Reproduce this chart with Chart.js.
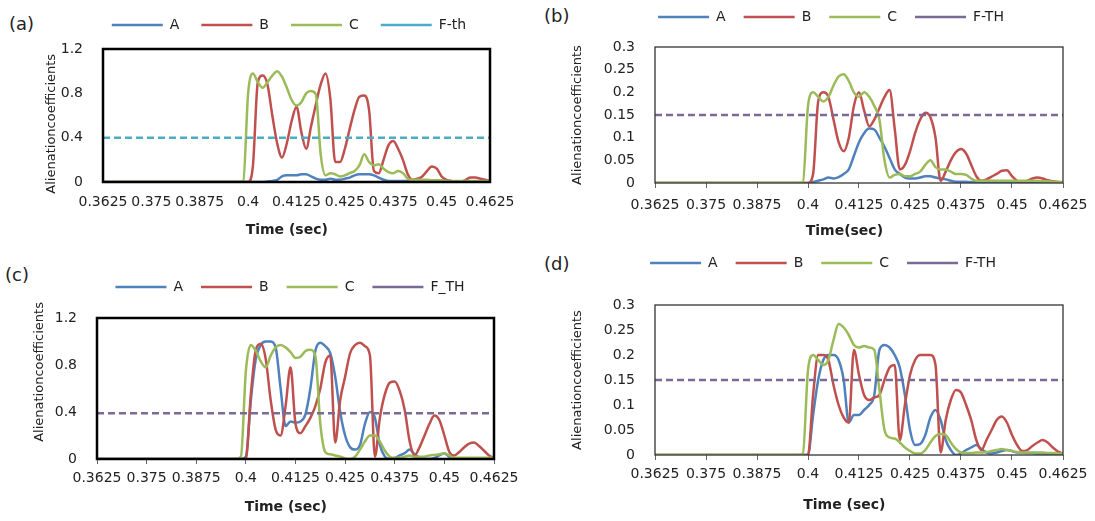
<!DOCTYPE html>
<html>
<head>
<meta charset="utf-8">
<script src="https://cdn.jsdelivr.net/npm/chart.js@4.4.0/dist/chart.umd.min.js"></script>
<style>
  html, body { margin: 0; padding: 0; background: #fff; width: 1095px; height: 521px; overflow: hidden; position: relative; }
  canvas { position: absolute; }
  .tag { position: absolute; font: 18px 'DejaVu Sans', sans-serif; color: #222; line-height: 1; }
</style>
</head>
<body>
<div class="tag" style="left:9px;top:15px">(a)</div>
<div class="tag" style="left:544px;top:7px">(b)</div>
<div class="tag" style="left:5px;top:266px">(c)</div>
<div class="tag" style="left:544px;top:255px">(d)</div>

<canvas id="ca" width="578" height="243" style="left:0px;top:-4px"></canvas>
<canvas id="cb" width="562" height="248" style="left:550px;top:-8px"></canvas>
<canvas id="cc" width="580" height="254" style="left:0px;top:262px"></canvas>
<canvas id="cd" width="546" height="276" style="left:550px;top:238px"></canvas>

<script>
// time axis (sec): one start point, then samples every 0.00125 s from 0.3975
const times = [0.3625,
  0.3975, 0.39875, 0.4, 0.40125, 0.4025, 0.40375, 0.405, 0.40625, 0.4075, 0.40875,
  0.41, 0.41125, 0.4125, 0.41375, 0.415, 0.41625, 0.4175, 0.41875, 0.42, 0.42125,
  0.4225, 0.42375, 0.425, 0.42625, 0.4275, 0.42875, 0.43, 0.43125, 0.4325, 0.43375,
  0.435, 0.43625, 0.4375, 0.43875, 0.44, 0.44125, 0.4425, 0.44375, 0.445, 0.44625,
  0.4475, 0.44875, 0.45, 0.45125, 0.4525, 0.45375, 0.455, 0.45625, 0.4575, 0.45875,
  0.46, 0.46125, 0.4625];

const xTicks = [0.3625, 0.375, 0.3875, 0.4, 0.4125, 0.425, 0.4375, 0.45, 0.4625];
const yTicksLarge = [0, 0.4, 0.8, 1.2];
const yTicksSmall = [0, 0.05, 0.1, 0.15, 0.2, 0.25, 0.3];
const seriesNames = ['A', 'B', 'C'];
const fTh = [0.4, 0.15, 0.39, 0.15];
const thLabels = ['F-th', 'F-TH', 'F_TH', 'F-TH'];
const xTitles = ['Time (sec)', 'Time(sec)', 'Time (sec)', 'Time (sec)'];
const yTitle = 'Alienationcoefficients';

// (a)
const a_A = [0,
  0, 0, 0, 0, 0, 0,
  0.005, 0.01, 0.02, 0.05, 0.06, 0.06, 0.06, 0.07, 0.07, 0.05,
  0.03, 0.02, 0.02, 0.03, 0.02, 0.02, 0.03, 0.04, 0.06, 0.07,
  0.07, 0.07, 0.06, 0.04, 0.02, 0.01, 0.01, 0.01, 0.01, 0.01,
  0.01, 0.01, 0.01, 0.01, 0.01, 0.01, 0.01, 0.01, 0.005, 0.005,
  0.005, 0.005, 0.005, 0.005, 0.005, 0.005, 0.005];
const a_B = [0,
  0, 0, 0, 0.15, 0.9, 0.96,
  0.88, 0.6, 0.35, 0.22, 0.35, 0.55, 0.68, 0.45, 0.3, 0.5,
  0.7, 0.88, 0.98, 0.75, 0.18, 0.18, 0.3, 0.48, 0.65, 0.77,
  0.78, 0.65, 0.1, 0.08, 0.2, 0.33, 0.37, 0.3, 0.2, 0.07,
  0.02, 0.03, 0.05, 0.1, 0.14, 0.12, 0.05, 0.02, 0.01, 0,
  0, 0.02, 0.04, 0.04, 0.03, 0.02, 0.01];
const a_C = [0,
  0, 0.01, 0.8, 0.98, 0.9, 0.85,
  0.9, 0.96, 1.0, 0.95, 0.85, 0.74, 0.69, 0.72, 0.8, 0.82,
  0.79, 0.25, 0.06, 0.08, 0.07, 0.05, 0.06, 0.08, 0.1, 0.15,
  0.25, 0.18, 0.15, 0.16, 0.12, 0.09, 0.08, 0.1, 0.08, 0.03,
  0.02, 0.02, 0.02, 0.02, 0.015, 0.015, 0.015, 0.01, 0.01, 0.01,
  0.01, 0.01, 0.01, 0.01, 0.01, 0.01, 0.01];

// (b)
const b_A = [0,
  0, 0, 0, 0.002, 0.005, 0.008,
  0.012, 0.01, 0.013, 0.02, 0.03, 0.06, 0.09, 0.11, 0.12, 0.118,
  0.1, 0.08, 0.055, 0.03, 0.02, 0.012, 0.01, 0.01, 0.012, 0.015,
  0.015, 0.012, 0.01, 0.008, 0.005, 0.003, 0.003, 0.003, 0.002, 0.002,
  0.002, 0.002, 0.002, 0.002, 0.002, 0.002, 0.002, 0.002, 0.002, 0.002,
  0.002, 0.002, 0.001, 0.001, 0.001, 0.001, 0];
const b_B = [0,
  0, 0, 0, 0.02, 0.18, 0.2,
  0.19, 0.14, 0.09, 0.07, 0.1, 0.17, 0.2, 0.16, 0.125, 0.14,
  0.165, 0.19, 0.205, 0.12, 0.03, 0.04, 0.07, 0.11, 0.14, 0.155,
  0.145, 0.1, 0.005, 0.025, 0.05, 0.068, 0.075, 0.065, 0.04, 0.015,
  0.005, 0.008, 0.014, 0.02, 0.027, 0.028, 0.015, 0.005, 0.002, 0.005,
  0.01, 0.012, 0.01, 0.006, 0.004, 0.002, 0];
const b_C = [0,
  0, 0.002, 0.17, 0.2, 0.19, 0.18,
  0.19, 0.215, 0.235, 0.24, 0.225, 0.2, 0.19, 0.2, 0.19, 0.17,
  0.14, 0.05, 0.012, 0.018, 0.02, 0.015, 0.015, 0.02, 0.025, 0.04,
  0.05, 0.035, 0.03, 0.03, 0.025, 0.02, 0.02, 0.018, 0.01, 0.005,
  0.005, 0.005, 0.005, 0.005, 0.005, 0.005, 0.005, 0.005, 0.005, 0.005,
  0.005, 0.005, 0.004, 0.004, 0.003, 0.003, 0.002];

// (c)
const c_A = [0,
  0, 0, 0.02, 0.5, 0.85, 0.97,
  1.0, 1.0, 0.95, 0.6, 0.28, 0.32, 0.31, 0.32, 0.38, 0.6,
  0.92, 0.99, 0.96, 0.9, 0.7, 0.4, 0.2, 0.1, 0.08, 0.12,
  0.3, 0.4, 0.35, 0.12, 0.02, 0, 0.01, 0.03, 0.05, 0.08,
  0.04, 0.01, 0, 0, 0.01, 0.03, 0.05, 0.02, 0.005, 0.005,
  0.005, 0.003, 0.003, 0.002, 0.002, 0.001, 0];
const c_B = [0,
  0, 0, 0, 0.55, 0.93, 0.98,
  0.85, 0.5, 0.25, 0.2, 0.45, 0.78, 0.3, 0.22, 0.28, 0.35,
  0.45, 0.6, 0.82, 0.88, 0.14, 0.5, 0.7, 0.9, 0.97, 0.99,
  0.96, 0.88, 0.02, 0.35, 0.55, 0.65, 0.66, 0.58, 0.42, 0.15,
  0.03, 0.1, 0.2, 0.3, 0.37, 0.33, 0.2, 0.06, 0.03, 0.06,
  0.1, 0.13, 0.14, 0.11, 0.07, 0.03, 0.01];
const c_C = [0,
  0, 0.02, 0.75, 0.97, 0.92, 0.83,
  0.78, 0.88, 0.95, 0.97, 0.95, 0.91, 0.86, 0.87, 0.92, 0.93,
  0.88, 0.3, 0.06, 0.04, 0.03, 0.02, 0.005, 0, 0.02, 0.08,
  0.15, 0.2, 0.2, 0.15, 0.07, 0.02, 0.01, 0.01, 0.02, 0.03,
  0.02, 0.02, 0.02, 0.03, 0.035, 0.04, 0.05, 0.03, 0.01, 0.01,
  0.01, 0.01, 0.01, 0.01, 0.01, 0.01, 0.01];

// (d)
const d_A = [0,
  0, 0, 0, 0.08, 0.15, 0.19,
  0.2, 0.2, 0.19, 0.15, 0.065, 0.08, 0.08, 0.09, 0.1, 0.12,
  0.21, 0.22, 0.215, 0.2, 0.175, 0.12, 0.05, 0.02, 0.022, 0.04,
  0.075, 0.09, 0.07, 0.03, 0.01, 0, 0.003, 0.01, 0.015, 0.02,
  0.012, 0.005, 0.003, 0.005, 0.008, 0.01, 0.008, 0.005, 0.005, 0.004,
  0.004, 0.003, 0.003, 0.002, 0.002, 0.001, 0];
const d_B = [0,
  0, 0, 0, 0.12, 0.2, 0.2,
  0.19, 0.14, 0.1, 0.075, 0.065, 0.21, 0.16, 0.12, 0.11, 0.115,
  0.12, 0.15, 0.175, 0.18, 0.03, 0.1, 0.16, 0.19, 0.2, 0.2,
  0.2, 0.18, 0.005, 0.07, 0.11, 0.13, 0.125, 0.1, 0.07, 0.03,
  0.01, 0.03, 0.05, 0.07, 0.077, 0.065, 0.04, 0.02, 0.008, 0.01,
  0.018, 0.025, 0.03, 0.025, 0.015, 0.007, 0.003];
const d_C = [0,
  0, 0.003, 0.17, 0.2, 0.19, 0.18,
  0.19, 0.23, 0.262, 0.255, 0.24, 0.22, 0.215, 0.218, 0.215, 0.21,
  0.13, 0.05, 0.035, 0.033, 0.025, 0.015, 0.008, 0.003, 0.003, 0.01,
  0.025, 0.038, 0.042, 0.04, 0.025, 0.012, 0.005, 0.004, 0.004, 0.005,
  0.005, 0.006, 0.008, 0.01, 0.012, 0.01, 0.008, 0.006, 0.005, 0.005,
  0.005, 0.005, 0.005, 0.004, 0.004, 0.003, 0.003];

const lineColors = ['#4F81BD', '#C0504D', '#9BBB59'];
const FONT = "'DejaVu Sans', sans-serif";
const FSP = '\u2007'; // figure space, used to nudge axis titles off centre

// pushes the plot down below the legend
function legendGap(extra) {
  return {
    id: 'legendGap',
    beforeInit(chart) {
      const fit = chart.legend.fit;
      chart.legend.fit = function () {
        fit.call(this);
        this.height += extra;
      };
    }
  };
}

// box round the plot area
const frame = {
  id: 'frame',
  afterDatasetsDraw(chart, args, opts) {
    const {ctx, chartArea: a} = chart;
    ctx.save();
    ctx.strokeStyle = opts.color;
    ctx.lineWidth = opts.width;
    ctx.strokeRect(a.left, a.top, a.right - a.left, a.bottom - a.top);
    ctx.restore();
  }
};

function pts(vals) {
  return times.map((t, k) => ({x: t, y: vals[k]}));
}

function makeChart(p) {
  const datasets = p.series.map((vals, k) => ({
    label: seriesNames[k],
    data: pts(vals),
    borderColor: lineColors[k],
    backgroundColor: lineColors[k],
    borderWidth: 2.5,
    pointRadius: 0,
    pointHoverRadius: 0,
    pointStyle: 'line',
    cubicInterpolationMode: 'monotone',
    order: 4 - k
  }));
  datasets.push({
    label: thLabels[p.n],
    data: [{x: xTicks[0], y: fTh[p.n]}, {x: xTicks[xTicks.length - 1], y: fTh[p.n]}],
    borderColor: p.thColor,
    backgroundColor: p.thColor,
    borderWidth: 2.5,
    borderDash: [7, 4],
    pointRadius: 0,
    pointHoverRadius: 0,
    pointStyle: 'line',
    order: 1
  });

  return new Chart(document.getElementById(p.id), {
    type: 'line',
    data: {datasets: datasets},
    options: {
      responsive: false,
      animation: false,
      events: [],
      layout: {padding: 0},
      plugins: {
        legend: {
          position: 'top',
          labels: {
            usePointStyle: true,
            pointStyleWidth: 51,
            padding: p.legendPad,
            color: '#222',
            font: {family: FONT, size: 14},
            sort: (a, b) => a.datasetIndex - b.datasetIndex
          }
        },
        tooltip: {enabled: false},
        frame: {color: p.frameColor, width: p.frameWidth}
      },
      scales: {
        x: {
          type: 'linear',
          min: xTicks[0],
          max: xTicks[xTicks.length - 1],
          afterBuildTicks: s => { s.ticks = xTicks.map(v => ({value: v})); },
          afterFit: s => { s.height = p.xH; },
          grid: {display: true, drawOnChartArea: false, drawTicks: p.tickLen > 0, tickLength: p.tickLen, color: '#666'},
          border: {display: false},
          ticks: {
            autoSkip: false, maxRotation: 0, minRotation: 0,
            padding: p.tickPad,
            color: '#222',
            font: {family: FONT, size: 14},
            callback: v => String(+v.toFixed(5))
          },
          title: {
            display: true, text: xTitles[p.n] + FSP.repeat(p.xShift), color: '#222',
            font: {family: FONT, size: 14, weight: 'bold'},
            padding: {top: 0, bottom: 0}
          }
        },
        y: {
          position: 'left',
          min: 0,
          max: p.yTicks[p.yTicks.length - 1],
          afterBuildTicks: s => { s.ticks = p.yTicks.map(v => ({value: v})); },
          afterFit: s => { s.width = p.yW; },
          grid: {display: false},
          border: {display: false},
          ticks: {
            padding: 12, color: '#222',
            font: {family: FONT, size: 14},
            callback: v => String(+v.toFixed(4))
          },
          title: {
            display: true,
            text: FSP.repeat(p.yUp) + yTitle + FSP.repeat(p.yDown),
            color: '#222',
            font: {family: FONT, size: 13},
            padding: {top: p.yTitlePad, bottom: 0}
          }
        },
        yR: {
          position: 'right',
          display: true,
          afterFit: s => { s.width = p.rW; },
          grid: {display: false},
          border: {display: false},
          ticks: {display: false}
        }
      }
    },
    plugins: [legendGap(p.gap), frame]
  });
}

makeChart({n: 0, id: 'ca', series: [a_A, a_B, a_C], yTicks: yTicksLarge, thColor: '#4BACC6',
  frameColor: '#000', frameWidth: 2.5, legendPad: 22, gap: 7,
  yW: 103, rW: 88, xH: 57, tickLen: 0, tickPad: 12, yTitlePad: 44, xShift: 2, yUp: 0, yDown: 2});
makeChart({n: 1, id: 'cb', series: [b_A, b_B, b_C], yTicks: yTicksSmall, thColor: '#7a6a96',
  frameColor: '#333', frameWidth: 1.3, legendPad: 18, gap: 13,
  yW: 105, rW: 49, xH: 57, tickLen: 5, tickPad: 9, yTitlePad: 20, xShift: 3, yUp: 0, yDown: 0});
makeChart({n: 2, id: 'cc', series: [c_A, c_B, c_C], yTicks: yTicksLarge, thColor: '#7a6a96',
  frameColor: '#000', frameWidth: 2.5, legendPad: 18, gap: 14,
  yW: 97, rW: 86, xH: 57, tickLen: 5, tickPad: 6, yTitlePad: 32, xShift: 2, yUp: 4, yDown: 0});
makeChart({n: 3, id: 'cd', series: [d_A, d_B, d_C], yTicks: yTicksSmall, thColor: '#7a6a96',
  frameColor: '#333', frameWidth: 1.3, legendPad: 18, gap: 25,
  yW: 105, rW: 33, xH: 59, tickLen: 5, tickPad: 6, yTitlePad: 20, xShift: 3, yUp: 0, yDown: 0});
</script>
</body>
</html>
